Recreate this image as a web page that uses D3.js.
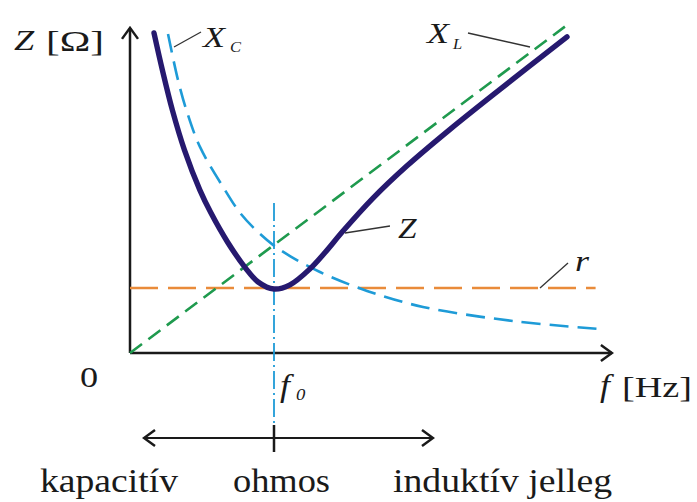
<!DOCTYPE html>
<html>
<head>
<meta charset="utf-8">
<script src="https://cdn.jsdelivr.net/npm/d3@7"></script>
<style>
  body { margin: 0; background: #fff; }
  text { font-family: "Liberation Serif", "Times New Roman", serif; fill: #1a1a1a; }
</style>
</head>
<body>
<script>
// frequency (arbitrary units) and reactance / impedance (arbitrary ohms)
var f0 = 3.0;
var rValue = 2.03;

var xlPoints = [[0, 0], [9.06, 10.2]];

var xcPoints = [
  [0.792, 9.97], [1.0, 8.53], [1.188, 7.53], [1.458, 6.44], [1.938, 5.19],
  [2.292, 4.38], [2.646, 3.81], [2.979, 3.38], [3.333, 3.03], [3.958, 2.53],
  [4.938, 1.94], [6.104, 1.44], [7.979, 1.0], [9.792, 0.75]
];

var zPoints = [
  [0.500, 10.0], [0.675, 8.84], [0.883, 7.59], [1.135, 6.34], [1.456, 5.09],
  [1.685, 4.38], [2.031, 3.47], [2.404, 2.66], [2.669, 2.22], [3.0, 2.0],
  [3.333, 2.13], [3.750, 2.63], [4.063, 3.14], [4.438, 3.81], [5.063, 4.84],
  [5.771, 5.85], [6.667, 6.99], [7.708, 8.24], [9.104, 9.88]
];

var rPoints = [[0, rValue], [9.7, rValue]];

var regionLabels = ["kapacitív", "ohmos", "induktív jelleg"];

function plot() {
  var width = 697, height = 502;

  var svg = d3.select("body").append("svg")
      .attr("width", width)
      .attr("height", height);

  var x = d3.scaleLinear().domain([0, 10]).range([130, 610]);
  var y = d3.scaleLinear().domain([0, 10]).range([353, 33]);

  var defs = svg.append("defs");
  defs.append("marker")
      .attr("id", "chev")
      .attr("markerUnits", "userSpaceOnUse")
      .attr("viewBox", "-14 -10 16 20")
      .attr("markerWidth", 16).attr("markerHeight", 20)
      .attr("refX", 0).attr("refY", 0)
      .attr("orient", "auto-start-reverse")
    .append("path")
      .attr("d", "M-11,-8L0,0L-11,8")
      .attr("fill", "none")
      .attr("stroke", "#1a1a1a")
      .attr("stroke-width", 2.5);

  var line = d3.line()
      .x(function(d) { return x(d[0]); })
      .y(function(d) { return y(d[1]); });

  var smooth = d3.line()
      .x(function(d) { return x(d[0]); })
      .y(function(d) { return y(d[1]); })
      .curve(d3.curveCatmullRom.alpha(0.5));

  // axes
  svg.append("line")
      .attr("x1", x(0)).attr("y1", y(0))
      .attr("x2", x(0)).attr("y2", y(10.16))
      .attr("stroke", "#1a1a1a").attr("stroke-width", 2.5)
      .attr("marker-end", "url(#chev)");
  svg.append("line")
      .attr("x1", x(0)).attr("y1", y(0))
      .attr("x2", x(10.04)).attr("y2", y(0))
      .attr("stroke", "#1a1a1a").attr("stroke-width", 2.5)
      .attr("marker-end", "url(#chev)");

  // resonance line
  svg.append("line")
      .attr("x1", x(f0)).attr("y1", 203)
      .attr("x2", x(f0)).attr("y2", 426)
      .attr("stroke", "#1e9bd7").attr("stroke-width", 1.8)
      .attr("stroke-dasharray", "18,4,2,4");

  svg.append("path").datum(rPoints)
      .attr("d", line)
      .attr("fill", "none").attr("stroke", "#e98b3a")
      .attr("stroke-width", 2.6).attr("stroke-dasharray", "28,10");

  svg.append("path").datum(xlPoints)
      .attr("d", line)
      .attr("fill", "none").attr("stroke", "#1f9a4e")
      .attr("stroke-width", 2.6).attr("stroke-dasharray", "15,8");

  svg.append("path").datum(xcPoints)
      .attr("d", smooth)
      .attr("fill", "none").attr("stroke", "#1e9bd7")
      .attr("stroke-width", 2.6).attr("stroke-dasharray", "19,9");

  svg.append("path").datum(zPoints)
      .attr("d", smooth)
      .attr("fill", "none").attr("stroke", "#26196f")
      .attr("stroke-width", 5.4).attr("stroke-linecap", "round");

  // leader lines
  var leaders = [
    [174, 47, 201, 32],
    [468, 33, 530, 47],
    [345, 233, 390, 226],
    [540, 288, 568, 263]
  ];
  svg.selectAll(".leader").data(leaders).enter().append("line")
      .attr("class", "leader")
      .attr("x1", function(d) { return d[0]; }).attr("y1", function(d) { return d[1]; })
      .attr("x2", function(d) { return d[2]; }).attr("y2", function(d) { return d[3]; })
      .attr("stroke", "#333").attr("stroke-width", 1.3);

  // text glyphs in the figure are a little wider than plain Times
  function label(t, px, py, size, italic, len, sx) {
    var g = svg.append("g")
        .attr("transform", "translate(" + px + "," + py + ") scale(" + (sx || 1) + ",1)");
    var el = g.append("text")
        .style("font-size", size + "px")
        .style("font-style", italic ? "italic" : "normal")
        .text(t);
    if (len) el.attr("textLength", len).attr("lengthAdjust", "spacingAndGlyphs");
    return el;
  }

  label("Z", 14, 50, 29, true, null, 1.25);
  label("[Ω]", 46, 51, 29, false, 58);
  label("X", 203, 47, 30, true, null, 1.2);
  label("C", 230, 52, 15, true, null, 1.1);
  label("X", 427, 43, 30, true, null, 1.2);
  label("L", 453, 49, 15, true, null, 1.1);
  label("Z", 398, 238, 29, true, null, 1.15);
  label("r", 575, 271, 30, true, null, 1.2);
  label("0", 80, 387, 29, false, null, 1.25);
  label("f", 280, 396, 31, true, null, 1.15);
  label("0", 296, 400, 17, true, null, 1.1);
  label("f", 600, 396, 31, true, null, 1.15);
  label("[Hz]", 622, 397, 30, false, 70);

  // character arrow below the axis
  svg.append("line")
      .attr("x1", 274).attr("y1", 438).attr("x2", 144).attr("y2", 438)
      .attr("stroke", "#1a1a1a").attr("stroke-width", 2.2)
      .attr("marker-end", "url(#chev)");
  svg.append("line")
      .attr("x1", 274).attr("y1", 438).attr("x2", 433).attr("y2", 438)
      .attr("stroke", "#1a1a1a").attr("stroke-width", 2.2)
      .attr("marker-end", "url(#chev)");
  svg.append("line")
      .attr("x1", 274).attr("y1", 425).attr("x2", 274).attr("y2", 452)
      .attr("stroke", "#1a1a1a").attr("stroke-width", 2.5);

  var regionPos = [[40, 138], [233, 97], [393, 219]];
  regionLabels.forEach(function(t, i) {
    label(t, regionPos[i][0], 492, 33, false, regionPos[i][1]);
  });
}

plot();
</script>
</body>
</html>
